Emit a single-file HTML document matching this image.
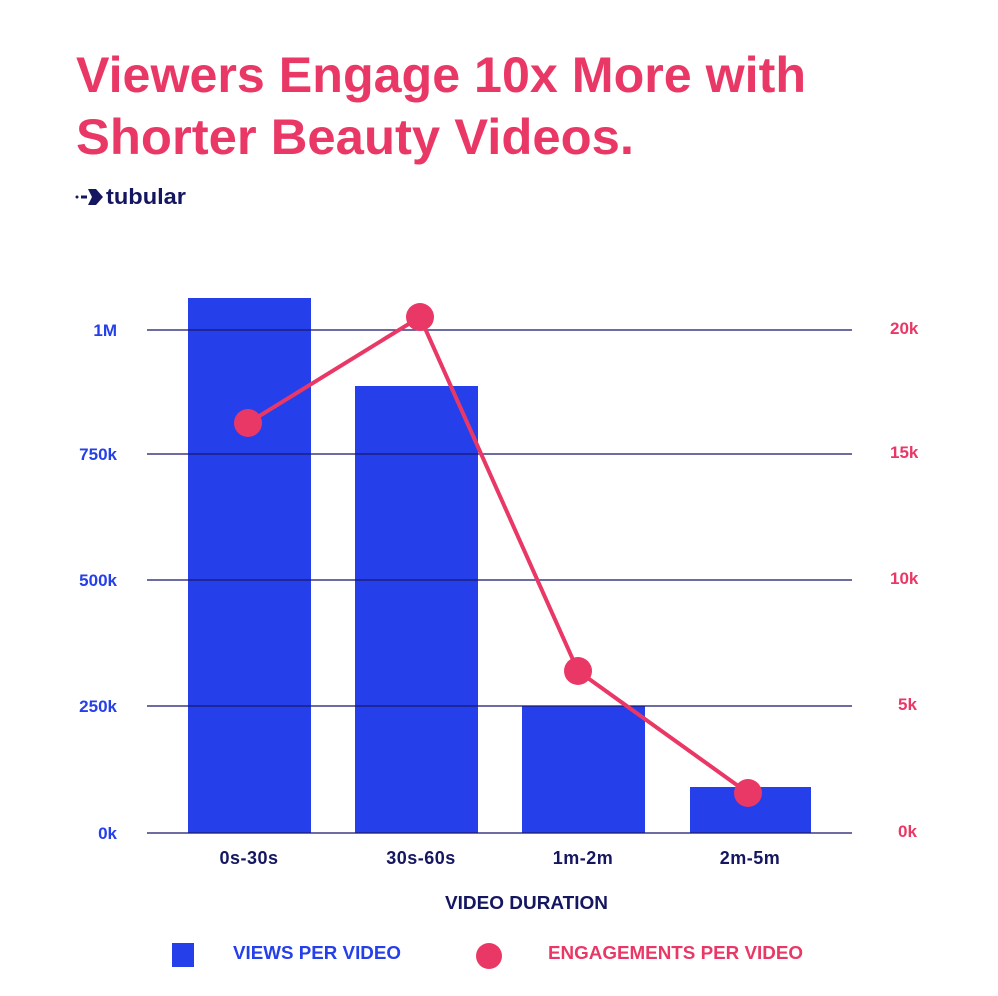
<!DOCTYPE html>
<html><head><style>
body{margin:0;background:#fff;}
svg{display:block;font-family:"Liberation Sans",sans-serif;font-weight:bold;}
</style></head><body>
<svg width="998" height="996" viewBox="0 0 998 996" xmlns="http://www.w3.org/2000/svg">
<rect width="998" height="996" fill="#fff"/>
<text x="76" y="92" font-size="50" fill="#ea3866" textLength="730" lengthAdjust="spacingAndGlyphs">Viewers Engage 10x More with</text>
<text x="76" y="154" font-size="50" fill="#ea3866" textLength="558" lengthAdjust="spacingAndGlyphs">Shorter Beauty Videos.</text>
<circle cx="77" cy="197" r="1.5" fill="#151660"/>
<rect x="81" y="195.5" width="6" height="3" fill="#151660"/>
<polygon points="88,189 96,189 103,197 96,205 88,205 92,197" fill="#151660"/>
<text x="106" y="204" font-size="22" fill="#151660" textLength="80" lengthAdjust="spacingAndGlyphs">tubular</text>
<g fill="#2540ea">
<rect x="188" y="298" width="123" height="535"/>
<rect x="355" y="386" width="123" height="447"/>
<rect x="522" y="706" width="123" height="127"/>
<rect x="690" y="787" width="121" height="46"/>
</g>
<g stroke="#1a1a6e" stroke-width="1.5" opacity="0.85">
<line x1="147" y1="330" x2="852" y2="330"/>
<line x1="147" y1="454" x2="852" y2="454"/>
<line x1="147" y1="580" x2="852" y2="580"/>
<line x1="147" y1="706" x2="852" y2="706"/>
<line x1="147" y1="833" x2="852" y2="833"/>
</g>
<g font-size="17" fill="#2540ea" text-anchor="end">
<text x="117" y="336">1M</text>
<text x="117" y="460">750k</text>
<text x="117" y="586">500k</text>
<text x="117" y="712">250k</text>
<text x="117" y="839">0k</text>
</g>
<g font-size="17" fill="#ea3866">
<text x="890" y="334">20k</text>
<text x="890" y="458">15k</text>
<text x="890" y="584">10k</text>
<text x="898" y="710">5k</text>
<text x="898" y="837">0k</text>
</g>
<polyline points="248,423 420,317 578,671 748,793" fill="none" stroke="#ea3866" stroke-width="4"/>
<g fill="#ea3866">
<circle cx="248" cy="423" r="14"/><circle cx="420" cy="317" r="14"/>
<circle cx="578" cy="671" r="14"/><circle cx="748" cy="793" r="14"/>
</g>
<g font-size="18" fill="#151660" text-anchor="middle" letter-spacing="0.5">
<text x="249" y="864">0s-30s</text>
<text x="421" y="864">30s-60s</text>
<text x="583" y="864">1m-2m</text>
<text x="750" y="864">2m-5m</text>
</g>
<text x="445" y="909" font-size="18" fill="#151660" textLength="163" lengthAdjust="spacingAndGlyphs">VIDEO DURATION</text>
<rect x="172" y="943" width="22" height="24" fill="#2540ea"/>
<text x="233" y="959" font-size="18" fill="#2540ea" textLength="168" lengthAdjust="spacingAndGlyphs">VIEWS PER VIDEO</text>
<circle cx="489" cy="956" r="13" fill="#ea3866"/>
<text x="548" y="959" font-size="18" fill="#ea3866" textLength="255" lengthAdjust="spacingAndGlyphs">ENGAGEMENTS PER VIDEO</text>
</svg>
</body></html>
